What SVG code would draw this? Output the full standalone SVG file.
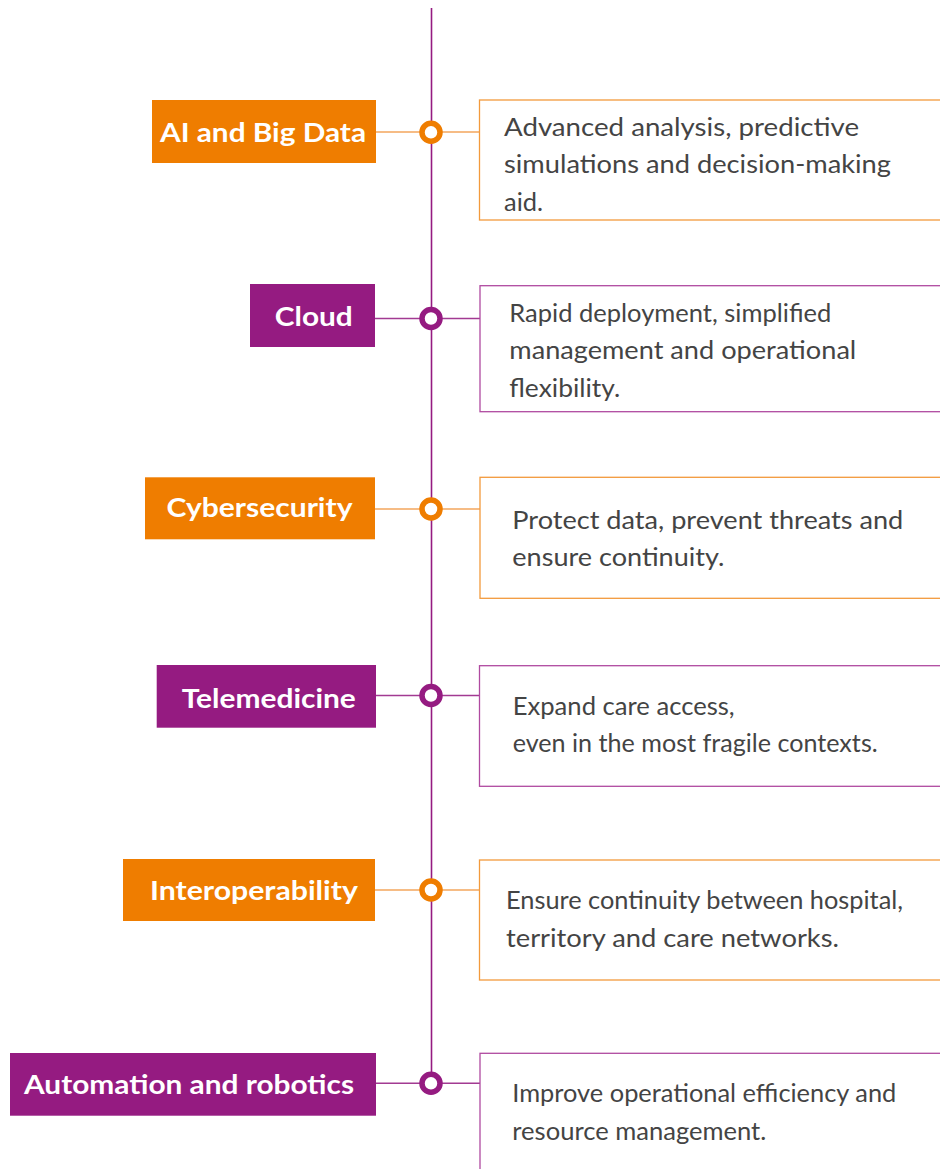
<svg xmlns="http://www.w3.org/2000/svg" width="940" height="1169" viewBox="0 0 940 1169">
<style>
.lo{fill:#ef7d00}.lp{fill:#951b81}
.lt{font-family:Lato,"Open Sans",sans-serif;font-weight:700;font-size:26px;fill:#fff;text-anchor:middle}
.dt{font-family:Lato,"Open Sans",sans-serif;font-size:25px;fill:#444}
.bo{fill:#fff;stroke:#f39a3c;stroke-width:1.3}
.bp{fill:#fff;stroke:#b04aa0;stroke-width:1.3}
.co{stroke:#f3a65c;stroke-width:1.6;fill:none}
.cp{stroke:#a23a92;stroke-width:1.6;fill:none}
.ko{fill:#fff;stroke:#ef7d00;stroke-width:5.5}
.kp{fill:#fff;stroke:#951b81;stroke-width:5.5}
</style>
<rect width="940" height="1169" fill="#fff"/>
<g id="connectors">
<line x1="431.5" y1="8" x2="431.5" y2="1083" stroke="#951b81" stroke-width="1.6"/>
<line class="co" x1="376" y1="132" x2="480" y2="132"/>
<line class="cp" x1="375" y1="318.5" x2="480" y2="318.5"/>
<line class="co" x1="375" y1="509" x2="480" y2="509"/>
<line class="cp" x1="376" y1="695.5" x2="480" y2="695.5"/>
<line class="co" x1="375" y1="890" x2="480" y2="890"/>
<line class="cp" x1="376" y1="1083.3" x2="480" y2="1083.3"/>
<circle class="ko" cx="431" cy="132.3" r="9"/>
<circle class="kp" cx="431" cy="318.5" r="9"/>
<circle class="ko" cx="431" cy="509" r="9"/>
<circle class="kp" cx="431" cy="695.5" r="9"/>
<circle class="ko" cx="431" cy="890" r="9"/>
<circle class="kp" cx="431" cy="1083.3" r="9"/>
</g>
<g id="n1">
<rect class="lo" x="152" y="100" width="224" height="63"/>
<text class="lt" x="263" y="141.7" textLength="206" lengthAdjust="spacingAndGlyphs">AI and Big Data</text>
<rect class="bo" x="479.5" y="100" width="470" height="120"/>
<text class="dt" x="504" y="135.7" textLength="355" lengthAdjust="spacingAndGlyphs">Advanced analysis, predictive</text>
<text class="dt" x="504" y="173.3" textLength="387" lengthAdjust="spacingAndGlyphs">simulations and decision-making</text>
<text class="dt" x="504" y="210.7" textLength="39" lengthAdjust="spacingAndGlyphs">aid.</text>
</g>
<g id="n2">
<rect class="lp" x="250" y="284" width="125" height="63"/>
<text class="lt" x="313.8" y="326" textLength="78" lengthAdjust="spacingAndGlyphs">Cloud</text>
<rect class="bp" x="480" y="285.7" width="470" height="126"/>
<text class="dt" x="509.3" y="322.3" textLength="322" lengthAdjust="spacingAndGlyphs">Rapid deployment, simplified</text>
<text class="dt" x="509.3" y="359" textLength="347" lengthAdjust="spacingAndGlyphs">management and operational</text>
<text class="dt" x="509.3" y="396.7" textLength="111" lengthAdjust="spacingAndGlyphs">flexibility.</text>
</g>
<g id="n3">
<rect class="lo" x="145" y="477.3" width="230" height="62"/>
<text class="lt" x="259.5" y="516.7" textLength="186" lengthAdjust="spacingAndGlyphs">Cybersecurity</text>
<rect class="bo" x="480" y="477.3" width="470" height="121"/>
<text class="dt" x="512.3" y="529.3" textLength="391" lengthAdjust="spacingAndGlyphs">Protect data, prevent threats and</text>
<text class="dt" x="512.3" y="566.3" textLength="212" lengthAdjust="spacingAndGlyphs">ensure continuity.</text>
</g>
<g id="n4">
<rect class="lp" x="156.7" y="665" width="219.3" height="62.7"/>
<text class="lt" x="268.8" y="708.3" textLength="174" lengthAdjust="spacingAndGlyphs">Telemedicine</text>
<rect class="bp" x="479.5" y="665.7" width="470" height="120.6"/>
<text class="dt" x="512.7" y="715" textLength="222" lengthAdjust="spacingAndGlyphs">Expand care access,</text>
<text class="dt" x="512.7" y="751.7" textLength="365" lengthAdjust="spacingAndGlyphs">even in the most fragile contexts.</text>
</g>
<g id="n5">
<rect class="lo" x="123" y="859" width="252" height="62"/>
<text class="lt" x="254" y="900" textLength="208" lengthAdjust="spacingAndGlyphs">Interoperability</text>
<rect class="bo" x="479.5" y="860" width="470" height="120"/>
<text class="dt" x="506" y="909.3" textLength="397" lengthAdjust="spacingAndGlyphs">Ensure continuity between hospital,</text>
<text class="dt" x="506" y="946.7" textLength="333" lengthAdjust="spacingAndGlyphs">territory and care networks.</text>
</g>
<g id="n6">
<rect class="lp" x="10" y="1053" width="366" height="62.7"/>
<text class="lt" x="189" y="1094.3" textLength="330" lengthAdjust="spacingAndGlyphs">Automation and robotics</text>
<rect class="bp" x="480" y="1053.3" width="470" height="130"/>
<text class="dt" x="512.3" y="1102.3" textLength="384" lengthAdjust="spacingAndGlyphs">Improve operational efficiency and</text>
<text class="dt" x="512.3" y="1139.7" textLength="254" lengthAdjust="spacingAndGlyphs">resource management.</text>
</g>
</svg>
